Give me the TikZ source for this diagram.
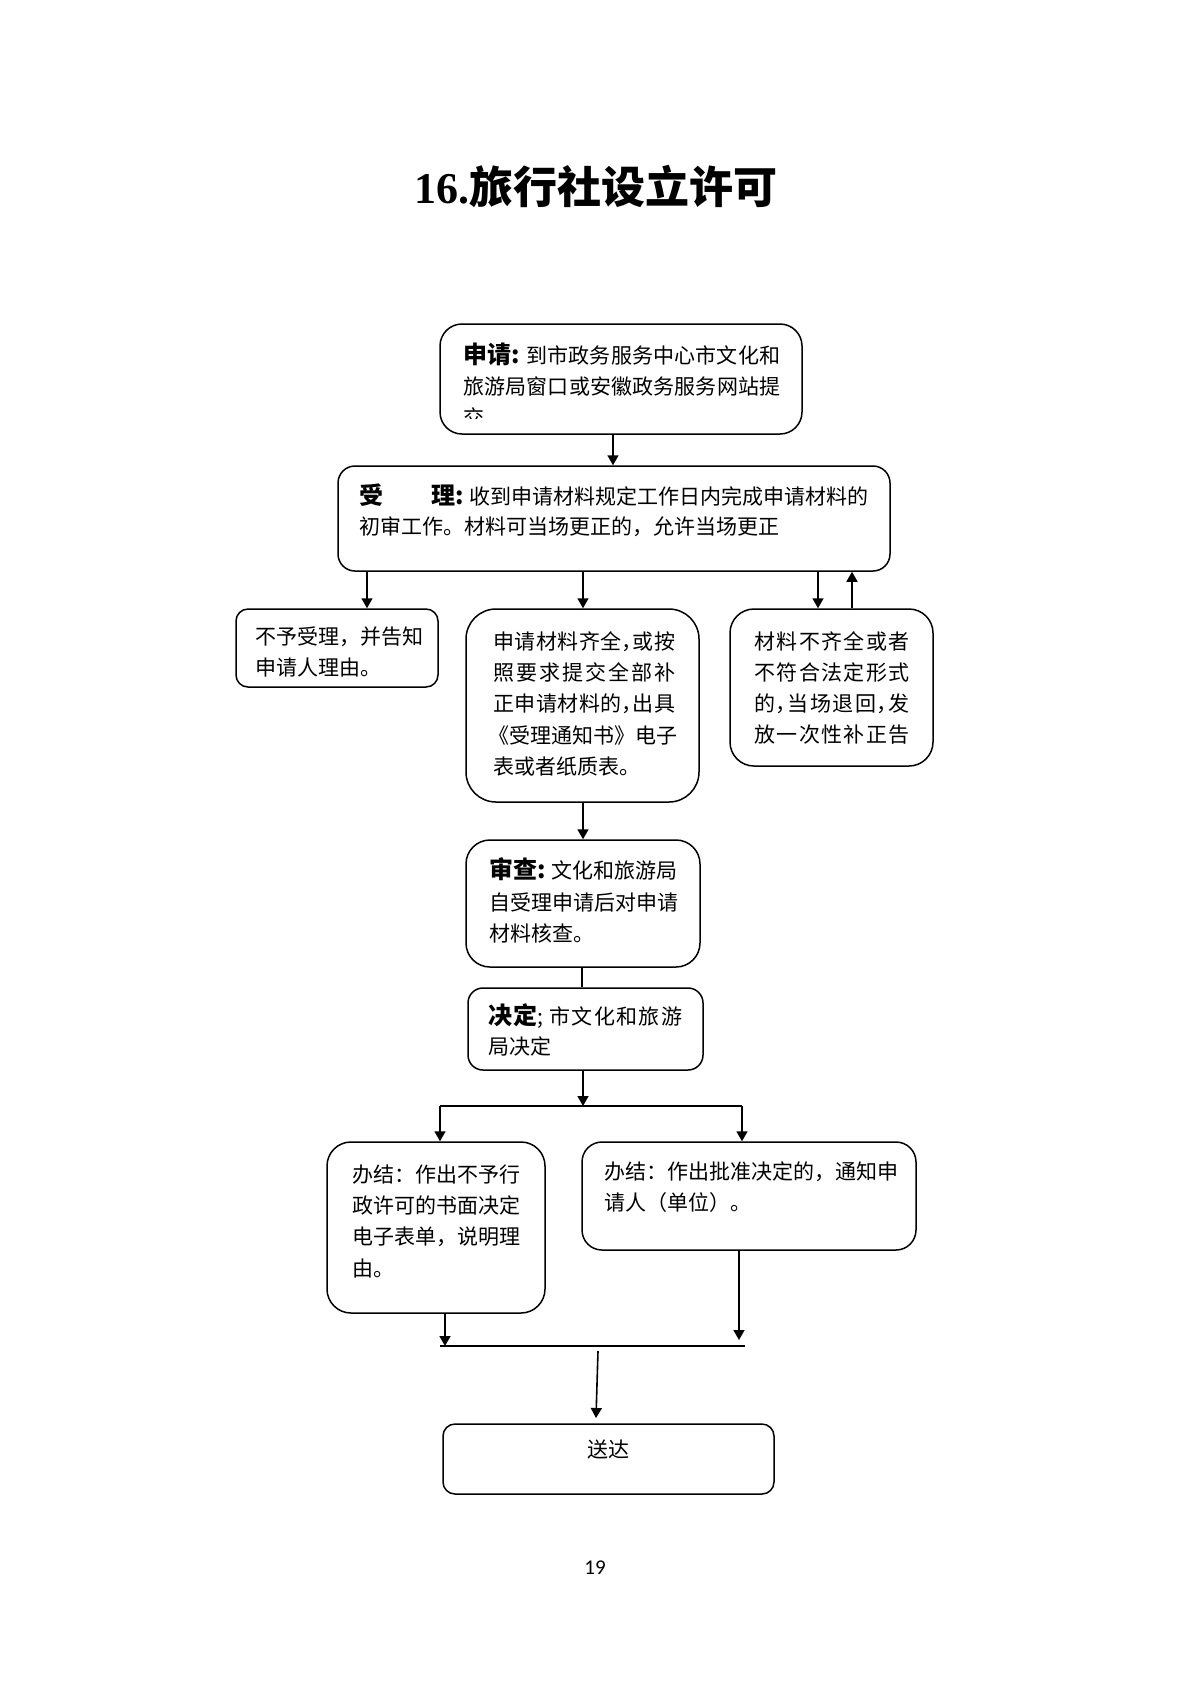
\documentclass[tikz,border=0pt]{standalone}
\usepackage{fontspec}
\setmainfont{Liberation Serif}
\newfontfamily\cjk{Noto Sans CJK SC}
\newfontfamily\numfont{Carlito}
\usetikzlibrary{arrows.meta}
% character classes for CJK so that lines can be spread
\newcount\cjkcc
\cjkcc="4E00
\loop \XeTeXcharclass\cjkcc=1 \advance\cjkcc by 1 \ifnum\cjkcc<"A000 \repeat
\XeTeXcharclass"300A=2 \XeTeXcharclass"FF08=2
\XeTeXcharclass"300B=3 \XeTeXcharclass"FF09=3 \XeTeXcharclass"FF0C=3
\XeTeXcharclass"3002=3 \XeTeXcharclass"FF1A=3
\XeTeXinterchartokenstate=1
\XeTeXinterchartoks 1 1 = {\hskip 0pt plus 1fil}
\XeTeXinterchartoks 3 1 = {\hskip 0pt plus 1fil}
\XeTeXinterchartoks 1 2 = {\hskip 0pt plus 1fil}
\XeTeXinterchartoks 3 2 = {\hskip 0pt plus 1fil}
\XeTeXinterchartoks 3 3 = {\hskip 0pt plus 1fil}
\newcommand\jl[2]{\hbox to #1{#2}}
\newcommand\hc{\hbox to 5.25pt{，\hss}\hskip 0pt plus 1fil\relax}
\newcommand\lab[1]{{\fontsize{12pt}{12pt}\selectfont\bfseries #1}\hskip 3pt plus 1fil\relax}
\tikzset{
  box/.style={draw, line width=0.75pt, rounded corners=#1, inner sep=0pt},
  box/.default=8pt,
  tx/.style={anchor=base west, inner sep=0pt, font=\cjk\fontsize{10.5pt}{15pt}\selectfont},
  ln/.style={line width=0.8pt},
  arr/.style={line width=0.8pt, -{Triangle[length=5pt,width=5.5pt]}}
}
\begin{document}
\begin{tikzpicture}[x=0.5pt,y=-0.5pt]
\useasboundingbox (0,0) rectangle (1190,1683);

% title
\node[anchor=base, inner sep=0pt] (title) at (596,203)
  {\fontsize{22pt}{22pt}\selectfont\bfseries 16.{\cjk 旅行社设立许可}};

% boxes
\node[box=11pt, minimum width=181pt, minimum height=55pt] (b1) at (621,379) {};
\node[box=8.5pt, minimum width=276pt, minimum height=52.5pt] (b2) at (614,518.5) {};
\node[box=6pt, minimum width=101pt, minimum height=39pt] (b3l) at (337,648) {};
\node[box=15pt, minimum width=116.5pt, minimum height=96.5pt] (b3m) at (582.5,705.5) {};
\node[box=12pt, minimum width=101.5pt, minimum height=78.5pt] (b3r) at (831.5,687.5) {};
\node[box=12pt, minimum width=117pt, minimum height=63.5pt] (b4) at (583,903.5) {};
\node[box=7.5pt, minimum width=117.5pt, minimum height=41pt] (b5) at (585.5,1029) {};
\node[box=12pt, minimum width=109pt, minimum height=85.5pt] (b6l) at (436,1227.5) {};
\node[box=10pt, minimum width=167pt, minimum height=54pt] (b6r) at (749,1196) {};
\node[box=6pt, minimum width=165.5pt, minimum height=35pt] (b7) at (608.5,1459) {};

% texts
\node[tx] (t1a) at (463,363) {\jl{158.5pt}{\lab{申请:}到市政务服务中心市文化和}};
\node[tx] (t1b) at (463,394) {\jl{158.5pt}{旅游局窗口或安徽政务服务网站提}};
\begin{scope}
  \clip (440,324) rectangle (802,418);
  \node[tx] (t1c) at (463,425) {交};
\end{scope}

\node[tx] (t2a) at (359,504) {\jl{254.5pt}{\lab{受\hspace{24pt}理:}收到申请材料规定工作日内完成申请材料的}};
\node[tx] (t2b) at (359,534) {初审工作。材料可当场更正的，允许当场更正};

\node[tx] (t3a) at (255,644) {不予受理，并告知};
\node[tx] (t3b) at (255,675) {申请人理由。};

\node[tx] (t4a) at (493,649) {\jl{91pt}{申请材料齐全\hc 或按}};
\node[tx] (t4b) at (493,680) {\jl{91pt}{照要求提交全部补}};
\node[tx] (t4c) at (493,711) {\jl{91pt}{正申请材料的\hc 出具}};
\node[tx] (t4d) at (488,743) {\jl{93.5pt}{《受理通知书》电子}};
\node[tx] (t4e) at (493,774) {表或者纸质表。};

\node[tx] (t5a) at (754,649) {\jl{77.5pt}{材料不齐全或者}};
\node[tx] (t5b) at (754,680) {\jl{77.5pt}{不符合法定形式}};
\node[tx] (t5c) at (754,711) {\jl{77.5pt}{的\hc 当场退回\hc 发}};
\node[tx] (t5d) at (754,742) {\jl{77.5pt}{放一次性补正告}};

\node[tx] (t6a) at (489,878) {\lab{审查:}文化和旅游局};
\node[tx] (t6b) at (489,910) {自受理申请后对申请};
\node[tx] (t6c) at (489,941) {材料核查。};

\node[tx] (t7a) at (488,1024) {\jl{97pt}{{\fontsize{12pt}{12pt}\selectfont\bfseries 决定};\hskip 2pt plus 1fil 市文化和旅游}};
\node[tx] (t7b) at (488,1054) {局决定};

\node[tx] (t8a) at (352,1182) {办结：作出不予行};
\node[tx] (t8b) at (352,1213) {政许可的书面决定};
\node[tx] (t8c) at (352,1244) {电子表单，说明理};
\node[tx] (t8d) at (352,1276) {由。};

\node[tx] (t9a) at (604,1179) {办结：作出批准决定的，通知申};
\node[tx] (t9b) at (604,1210) {请人（单位）。};

\node[tx, anchor=base] (t10) at (608,1457) {送达};

\node[anchor=base, inner sep=0pt] (pg) at (595,1574) {\numfont\fontsize{10.5pt}{12pt}\selectfont 19};

% connectors
\draw[arr] (b1.south -| 613,0) -- (b2.north -| 613,0);
\draw[arr] (b2.south -| 367,0) -- (b3l.north -| 367,0);
\draw[arr] (b2.south -| 583,0) -- (b3m.north -| 583,0);
\draw[arr] (b2.south -| 818,0) -- (b3r.north -| 818,0);
\draw[arr] (b3r.north -| 852,0) -- (b2.south -| 852,0);
\draw[arr] (b3m.south -| 583,0) -- (b4.north -| 583,0);
\draw[ln] (b4.south -| 582,0) -- (b5.north -| 582,0);

\coordinate (j0) at (583,1106);
\coordinate (j1) at (440,1106);
\coordinate (j2) at (742,1106);
\draw[arr] (b5.south -| j0) -- (j0);
\draw[ln] (j1) -- (j2);
\draw[arr] (j1) -- (b6l.north -| j1);
\draw[arr] (j2) -- (b6r.north -| j2);

\coordinate (k1) at (440,1346);
\coordinate (k2) at (745,1346);
\coordinate (k3) at (445,1346);
\coordinate (k4) at (739,1340);
\coordinate (k5) at (598,1351);
\coordinate (k6) at (596,1418);
\draw[ln] (k1) -- (k2);
\draw[arr] (b6l.south -| k3) -- (k3);
\draw[arr] (b6r.south -| k4) -- (k4);
\draw[arr] (k5) -- (k6);
\end{tikzpicture}
\end{document}
